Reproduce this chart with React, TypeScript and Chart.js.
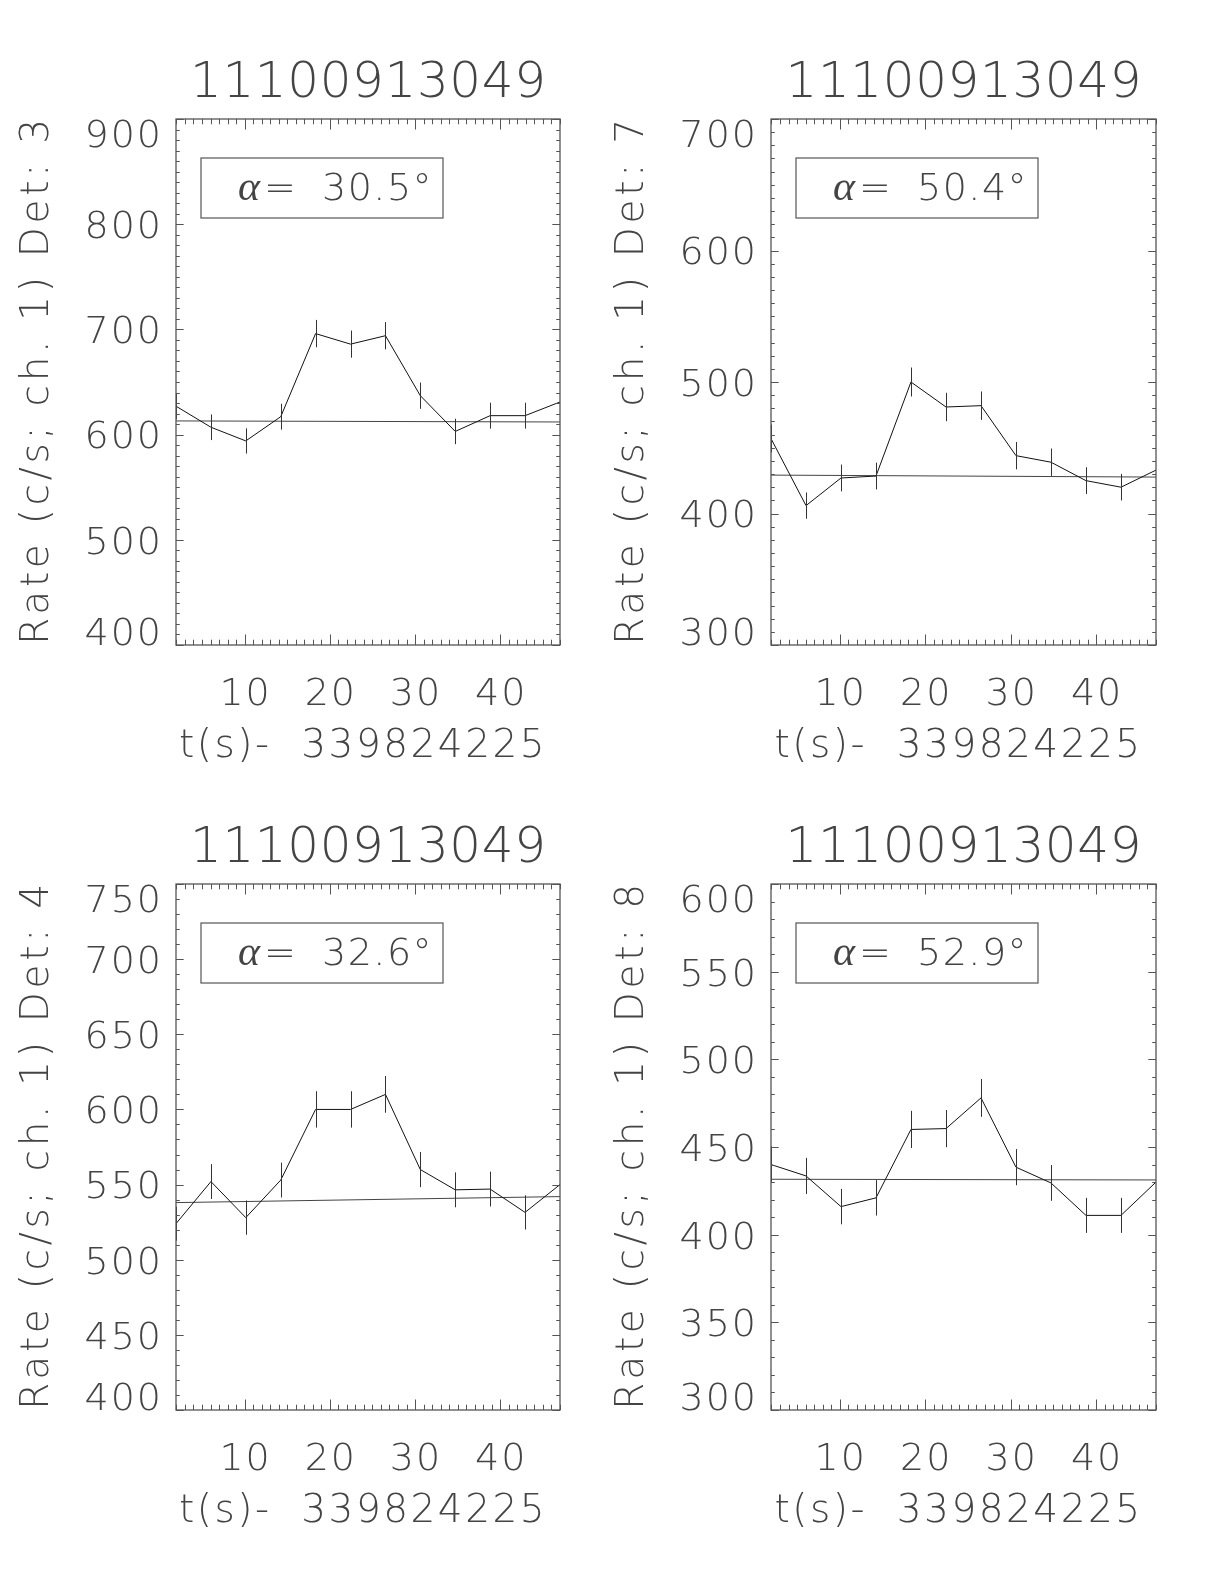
import React, { useEffect, useRef } from "react";
import { Chart, registerables } from "chart.js";

Chart.register(...registerables);

// ---------------- data ----------------
const OBS_ID = "11100913049";
const X_AXIS_TITLE = "t(s)-  339824225";
const Y_AXIS_TITLE = "Rate (c/s; ch. 1) Det: ";

const TIMES = [1.95, 6.05, 10.14, 14.24, 18.33, 22.43, 26.53, 30.62, 34.72, 38.81, 42.91, 47.01];
const X_TICK_LABELS = [10, 20, 30, 40];

const DET3_RATE = [627, 607, 594, 617, 696, 686, 694, 637, 603, 618, 618, 631];
const DET3_ERR = [12.4, 12.2, 12.0, 12.3, 13.0, 12.9, 13.0, 12.5, 12.1, 12.3, 12.3, 12.4];
const DET3_FIT = [613, 612];

const DET7_RATE = [457, 406, 427, 428.5, 500, 481, 482, 444, 439, 425, 420, 433];
const DET7_ERR = [10.6, 10.0, 10.2, 10.2, 11.0, 10.8, 10.8, 10.4, 10.4, 10.2, 10.1, 10.3];
const DET7_FIT = [429.2, 427.7];

const DET4_RATE = [524, 552, 528, 553, 600, 600, 610, 560, 546.5, 547, 531.5, 550];
const DET4_ERR = [11.3, 11.6, 11.4, 11.6, 12.1, 12.1, 12.2, 11.7, 11.6, 11.6, 11.4, 11.6];
const DET4_FIT = [538, 542];

const DET8_RATE = [440, 433.5, 416, 421, 460, 460.5, 478, 438.5, 429.5, 411, 411, 430];
const DET8_ERR = [10.4, 10.3, 10.1, 10.1, 10.6, 10.6, 10.8, 10.3, 10.2, 10.0, 10.0, 10.2];
const DET8_FIT = [431.6, 431.2];

const DETECTORS = ["3", "7", "4", "8"];
const ALPHAS = ["30.5", "50.4", "32.6", "52.9"];
const Y_MIN = [400, 300, 400, 300];
const Y_MAX = [900, 700, 750, 600];
const Y_MAJOR = [100, 100, 50, 50];
const Y_MINOR = [10, 10, 10, 10];

// ---------------- layout / style ----------------
const FONT_FAMILY = '"DejaVu Sans", "Liberation Sans", sans-serif';
const ALPHA_FONT = '"Liberation Serif", "DejaVu Serif", serif';
const TEXT_COLOR = "#444";
const AXIS_COLOR = "#555";

type PanelLayout = { left: number; top: number; padL: number; padT: number; padR: number; padB: number };
const CANVAS_W = 612;
const CANVAS_H = 792;
const LAYOUTS: PanelLayout[] = [
  { left: 0, top: 0, padL: 176, padT: 119, padR: 52, padB: 147 },
  { left: 612, top: 0, padL: 159, padT: 119, padR: 68, padB: 147 },
  { left: 0, top: 792, padL: 176, padT: 92, padR: 52, padB: 174 },
  { left: 612, top: 792, padL: 159, padT: 92, padR: 68, padB: 174 },
];

const font = (size: number) => `200 ${size}px ${FONT_FAMILY}`;

const setSpacing = (ctx: any, px: number) => {
  ctx.letterSpacing = `${px}px`;
};

const idlPlugin = {
  id: "idlFrame",
  afterDatasetsDraw(chart: any, _args: any, opts: any) {
    const { ctx, chartArea } = chart;
    const xs = chart.scales.x;
    const ys = chart.scales.y;
    ctx.save();
    ctx.beginPath();
    ctx.rect(chartArea.left, chartArea.top, chartArea.right - chartArea.left, chartArea.bottom - chartArea.top);
    ctx.clip();
    ctx.strokeStyle = "#333";
    ctx.lineWidth = 1;
    const rates: number[] = opts.rates;
    const errs: number[] = opts.errs;
    const times: number[] = opts.times;
    for (let i = 0; i < rates.length; i++) {
      const x = Math.round(xs.getPixelForValue(times[i])) + 0.5;
      const y1 = ys.getPixelForValue(rates[i] + errs[i]);
      const y2 = ys.getPixelForValue(rates[i] - errs[i]);
      ctx.beginPath();
      ctx.moveTo(x, y1);
      ctx.lineTo(x, y2);
      ctx.stroke();
    }
    ctx.restore();
  },
  afterDraw(chart: any, _args: any, opts: any) {
    const { ctx, chartArea } = chart;
    const xs = chart.scales.x;
    const ys = chart.scales.y;
    const { left, right, top, bottom } = chartArea;
    const cx = (left + right) / 2;
    const cy = (top + bottom) / 2;
    ctx.save();

    // frame
    ctx.strokeStyle = AXIS_COLOR;
    ctx.lineWidth = 1.3;
    ctx.strokeRect(left, top, right - left, bottom - top);

    // x ticks (minor every 1, major every 10)
    ctx.lineWidth = 1;
    for (let v = Math.ceil(xs.min); v <= Math.floor(xs.max); v++) {
      const len = v % 10 === 0 ? 10.5 : 5.3;
      const px = Math.round(xs.getPixelForValue(v)) + 0.5;
      ctx.beginPath();
      ctx.moveTo(px, bottom);
      ctx.lineTo(px, bottom - len);
      ctx.moveTo(px, top);
      ctx.lineTo(px, top + len);
      ctx.stroke();
    }
    // y ticks
    const yMin = ys.min;
    const yMax = ys.max;
    for (let v = yMin; v <= yMax + 1e-6; v += opts.yMinor) {
      const q = (v - yMin) / opts.yMajor;
      const isMajor = Math.abs(q - Math.round(q)) < 1e-6;
      const len = isMajor ? 7.7 : 3.8;
      const py = Math.round(ys.getPixelForValue(v)) + 0.5;
      ctx.beginPath();
      ctx.moveTo(left, py);
      ctx.lineTo(left + len, py);
      ctx.moveTo(right, py);
      ctx.lineTo(right - len, py);
      ctx.stroke();
    }

    ctx.fillStyle = TEXT_COLOR;
    // y tick labels
    const tickSize = 38;
    const dh = 0.729 * tickSize;
    ctx.font = font(tickSize);
    setSpacing(ctx, 2);
    ctx.textAlign = "right";
    ctx.textBaseline = "alphabetic";
    for (let v = yMin; v <= yMax + 1e-6; v += opts.yMajor) {
      const py = ys.getPixelForValue(v);
      const base = Math.min(Math.max(py + dh / 2, top + dh), bottom);
      ctx.fillText(String(v), left - 13, base);
    }
    // x tick labels
    ctx.textAlign = "center";
    for (const v of opts.xTicks as number[]) {
      ctx.fillText(String(v), xs.getPixelForValue(v) + 1, bottom + 60);
    }
    // x title
    ctx.font = font(39);
    setSpacing(ctx, 2.5);
    ctx.fillText(opts.xTitle, cx - 5, bottom + 112);
    // title
    ctx.font = font(50);
    setSpacing(ctx, 0.6);
    ctx.fillText(opts.title, cx + 0.3, top - 22);
    // y title
    ctx.save();
    ctx.translate(left - 128, cy - 2);
    ctx.rotate(-Math.PI / 2);
    ctx.font = font(39);
    setSpacing(ctx, 3.7);
    ctx.textAlign = "center";
    ctx.fillText(opts.yTitle, 0, 0);
    ctx.restore();

    // alpha box
    ctx.strokeStyle = AXIS_COLOR;
    ctx.lineWidth = 1.2;
    ctx.strokeRect(left + 25, top + 39, 242, 60);
    const base = top + 81;
    ctx.textAlign = "left";
    setSpacing(ctx, 0);
    ctx.font = `italic 42px ${ALPHA_FONT}`;
    const ax = left + 62;
    ctx.fillText("α", ax, base);
    ctx.font = font(38);
    ctx.fillText("=", ax + 26, base);
    setSpacing(ctx, 1.5);
    ctx.fillText(opts.alpha + "°", ax + 84, base);

    ctx.restore();
  },
};

type PanelProps = {
  idx: number;
  rates: number[];
  errs: number[];
  fit: number[];
};

function Panel({ idx, rates, errs, fit }: PanelProps) {
  const ref = useRef<HTMLCanvasElement | null>(null);
  useEffect(() => {
    if (!ref.current) return;
    const L = LAYOUTS[idx];
    const chart = new Chart(ref.current, {
      type: "line",
      data: {
        datasets: [
          {
            data: TIMES.map((t, i) => ({ x: t, y: rates[i] })),
            borderColor: "#111",
            borderWidth: 1,
            pointRadius: 0,
            tension: 0,
            fill: false,
          },
          {
            data: [
              { x: TIMES[0], y: fit[0] },
              { x: TIMES[TIMES.length - 1], y: fit[1] },
            ],
            borderColor: "#444",
            borderWidth: 1,
            pointRadius: 0,
            tension: 0,
            fill: false,
          },
        ],
      },
      options: {
        animation: false,
        responsive: false,
        maintainAspectRatio: false,
        devicePixelRatio: 1,
        layout: { padding: { left: L.padL, top: L.padT, right: L.padR, bottom: L.padB } },
        scales: {
          x: { type: "linear", min: TIMES[0], max: TIMES[TIMES.length - 1], display: false },
          y: { type: "linear", min: Y_MIN[idx], max: Y_MAX[idx], display: false },
        },
        plugins: {
          legend: { display: false },
          tooltip: { enabled: false },
          idlFrame: {
            rates,
            errs,
            times: TIMES,
            xTicks: X_TICK_LABELS,
            yMajor: Y_MAJOR[idx],
            yMinor: Y_MINOR[idx],
            title: OBS_ID,
            xTitle: X_AXIS_TITLE,
            yTitle: Y_AXIS_TITLE + DETECTORS[idx],
            alpha: ALPHAS[idx],
          },
        } as any,
      },
      plugins: [idlPlugin],
    } as any);
    return () => chart.destroy();
  }, [idx, rates, errs, fit]);
  const L = LAYOUTS[idx];
  return (
    <canvas
      ref={ref}
      width={CANVAS_W}
      height={CANVAS_H}
      style={{ position: "absolute", left: L.left, top: L.top, width: CANVAS_W, height: CANVAS_H, display: "block" }}
    />
  );
}

export default function App() {
  return (
    <div style={{ position: "absolute", left: 0, top: 0, width: 1224, height: 1584, background: "#fff", overflow: "hidden" }}>
      <Panel idx={0} rates={DET3_RATE} errs={DET3_ERR} fit={DET3_FIT} />
      <Panel idx={1} rates={DET7_RATE} errs={DET7_ERR} fit={DET7_FIT} />
      <Panel idx={2} rates={DET4_RATE} errs={DET4_ERR} fit={DET4_FIT} />
      <Panel idx={3} rates={DET8_RATE} errs={DET8_ERR} fit={DET8_FIT} />
    </div>
  );
}
